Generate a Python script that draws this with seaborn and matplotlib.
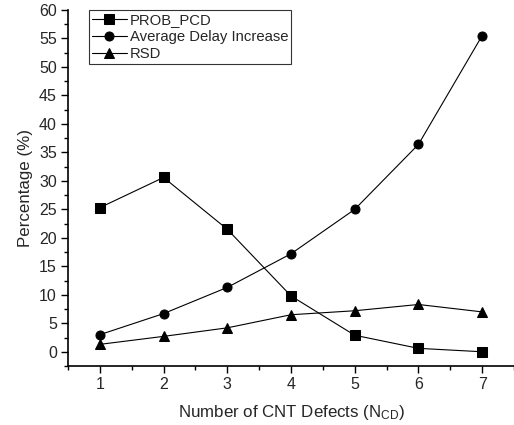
import pandas as pd
import numpy as np
import seaborn as sns
import matplotlib.pyplot as plt
from matplotlib.ticker import MultipleLocator

# datos
defects = [1, 2, 3, 4, 5, 6, 7]
prob_pcd = [25.3, 30.6, 21.5, 9.8, 2.9, 0.6, 0.0]
avg_delay = [3.0, 6.7, 11.3, 17.2, 25.0, 36.4, 55.5]
rsd = [1.3, 2.7, 4.2, 6.5, 7.2, 8.3, 7.0]
series_names = ["PROB_PCD", "Average Delay Increase", "RSD"]

df = pd.DataFrame({"N": defects * 3,
                   "val": prob_pcd + avg_delay + rsd,
                   "serie": [series_names[0]] * 7 + [series_names[1]] * 7 + [series_names[2]] * 7})

sns.set_style("ticks")
plt.rcParams['font.family'] = ['Liberation Sans', 'DejaVu Sans']
plt.rcParams['mathtext.default'] = 'regular'

fig = plt.figure(figsize=(5.14, 4.25), dpi=100)
ax = fig.add_axes([68/514, 59/425, 446/514, 356/425])
sns.lineplot(data=df, x="N", y="val", style="serie", markers=['s', 'o', '^'], dashes=False,
             color="black", linewidth=0.8, markersize=6.5, markeredgecolor="black", ax=ax)

ax.set_xlim(0.5, 7.5)
ax.set_ylim(-2.5, 60)
ax.xaxis.set_major_locator(MultipleLocator(1))
ax.xaxis.set_minor_locator(MultipleLocator(0.5))
ax.yaxis.set_major_locator(MultipleLocator(5))
ax.yaxis.set_minor_locator(MultipleLocator(2.5))
ax.set_yticks(np.arange(0, 61, 5))
ax.tick_params(which='major', length=5, width=1, labelsize=11.5, color='black', pad=3)
ax.tick_params(which='minor', length=3, width=1, color='black')
for s in ['left', 'bottom']:
    ax.spines[s].set_color('black')
    ax.spines[s].set_linewidth(1.2)
sns.despine(ax=ax)

ax.set_xlabel("Number of CNT Defects (N$_{CD}$)", fontsize=12.2, labelpad=8)
ax.set_ylabel("Percentage (%)", fontsize=12.2, labelpad=4)

leg = ax.legend(loc='upper left', bbox_to_anchor=(0.048, 1.0), fontsize=10.7, frameon=True,
                fancybox=False, edgecolor='black', borderpad=0.2, labelspacing=0.2,
                handlelength=2.3, handletextpad=0.2, borderaxespad=0)
leg.get_frame().set_linewidth(0.8)
leg.set_title(None)

fig.savefig("out.png", dpi=100)
